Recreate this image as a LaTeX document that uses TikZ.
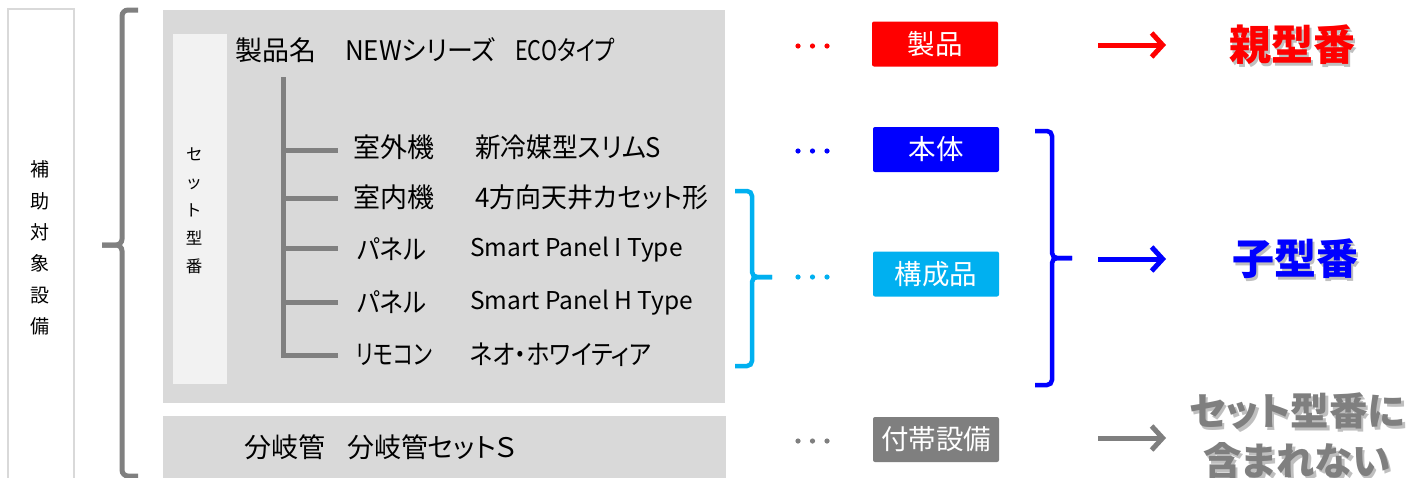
\documentclass[tikz,border=0pt]{standalone}
\usepackage{fontspec}
\setmainfont{Noto Sans CJK JP}[RawFeature=+palt]
\usetikzlibrary{arrows.meta}
\definecolor{boxgray}{HTML}{D9D9D9}
\definecolor{paleg}{HTML}{F2F2F2}
\definecolor{linegray}{HTML}{808080}
\definecolor{redc}{HTML}{FF0000}
\definecolor{bluec}{HTML}{0000FF}
\definecolor{cyanc}{HTML}{00B0F0}
\definecolor{darkg}{HTML}{7F7F7F}
\newcommand{\narw}[2]{\scalebox{#1}[1]{#2}}
\tikzset{
  panel/.style={fill=boxgray, inner sep=0, anchor=north west},
  treeline/.style={line width=5, draw=linegray},
  lbl/.style={anchor=west, inner sep=0, font=\fontsize{27}{30}\selectfont},
  lat/.style={anchor=west, inner sep=0, font=\fontsize{24.5}{30}\selectfont},
  tag/.style={rounded corners=2, minimum width=126, minimum height=45, inner sep=0, text=white, font=\fontsize{27.5}{30}\selectfont},
  dotc/.style={radius=2.6},
  brk/.style={line width=4.5, rounded corners=5},
  bigarrow/.style={line width=5, -{Straight Barb[length=11, width=24, line width=5]}},
  big/.style={font=\fontsize{42}{50}\selectfont\bfseries, inner sep=0, align=center},
  shadow/.style={text=black, opacity=0.25},
}
\begin{document}
\begin{tikzpicture}[x=1pt, y=-1pt]
\useasboundingbox (0,0) rectangle (1407,477);
\fill[white] (0,0) rectangle (1407,477);

% left label box
\draw[boxgray, line width=1.8] (74,490) -- (74,9) -- (8,9) -- (8,490);
\node[inner sep=0, align=center, font=\fontsize{19}{31.4}\selectfont] (hojo) at (40,248) {補\\助\\対\\象\\設\\備};

% big gray bracket
\draw[linegray, line width=5, rounded corners=6] (138,10) -- (122,10) -- (122,245) -- (102,245);
\draw[linegray, line width=5, rounded corners=6] (102,245) -- (122,245) -- (122,476) -- (138,476);

% gray panels
\node[panel, minimum width=562, minimum height=393] (setbox) at (163,10) {};
\node[panel, minimum width=563, minimum height=70] (subbox) at (163,416) {};
\node[fill=paleg, inner sep=0, anchor=north west, minimum width=54, minimum height=350] (setcol) at (173,34) {};
\node[inner sep=0, align=center, font=\fontsize{16.5}{28}\selectfont] (setlbl) at (194,211) {セ\\ッ\\ト\\型\\番};

% title and tree
\node[lbl] (title) at (235,50) {\makebox[110pt][l]{製品名}\makebox[170pt][l]{\narw{0.96}{NEWシリーズ}}\narw{0.8}{ECOタイプ}};
\coordinate (ttop) at (283,77);
\coordinate (b1) at (283,150);
\coordinate (b2) at (283,198);
\coordinate (b3) at (283,248);
\coordinate (b4) at (283,302);
\coordinate (b5) at (283,355);
\coordinate (e1) at (338,150);
\coordinate (e2) at (338,198);
\coordinate (e3) at (338,248);
\coordinate (e4) at (338,302);
\coordinate (e5) at (338,355);
\draw[treeline] (ttop) -- (b5) -- (e5);
\draw[treeline] (b1) -- (e1);
\draw[treeline] (b2) -- (e2);
\draw[treeline] (b3) -- (e3);
\draw[treeline] (b4) -- (e4);

\node[lbl] (k1) at (353,147) {室外機};
\node[lbl] (v1) at (475,147) {\narw{0.95}{新冷媒型スリムS}};
\node[lbl] (k2) at (353,197) {室内機};
\node[lbl] (v2) at (475,197) {\narw{0.96}{4方向天井カセット形}};
\node[lbl] (k3) at (357,249) {\narw{0.9}{パネル}};
\node[lat] (v3) at (470,250) {Smart Panel I Type};
\node[lbl] (k4) at (357,302) {\narw{0.9}{パネル}};
\node[lat] (v4) at (470,303) {Smart Panel H Type};
\node[lbl] (k5) at (356,355) {\narw{0.78}{リモコン}};
\node[lbl] (v5) at (470,355) {\narw{0.88}{ネオ・ホワイティア}};
\node[lbl] (pipe) at (244,447) {\makebox[103pt][l]{分岐管}分岐管セットＳ};

% dots
\foreach \xx in {798,812.5,827}{
  \fill[redc] (\xx,46) circle[dotc];
  \fill[bluec] (\xx,151) circle[dotc];
  \fill[cyanc] (\xx,277) circle[dotc];
  \fill[darkg] (\xx,441) circle[dotc];
}

% tags
\node[tag, fill=redc] (seihin) at (935,44) {製品};
\node[tag, fill=bluec] (hontai) at (936,149.5) {本体};
\node[tag, fill=cyanc] (kosei) at (936,274) {構成品};
\node[tag, fill=darkg] (futai) at (936,439.5) {付帯設備};

% brackets
\draw[cyanc, brk] (735,191) -- (752,191) -- (752,277) -- (772,277);
\draw[cyanc, brk] (772,277) -- (752,277) -- (752,366) -- (735,366);
\draw[bluec, brk] (1035,131) -- (1052,131) -- (1052,258) -- (1072,258);
\draw[bluec, brk] (1072,258) -- (1052,258) -- (1052,385) -- (1035,385);

% results with soft shadows
\node[big, shadow] (oyash) at (1294.5,47.5) {親型番};
\node[big, text=redc] (oya) at (1292,45) {親型番};
\node[big, shadow] (kosh) at (1297.5,261.5) {子型番};
\node[big, text=bluec] (ko) at (1295,259) {子型番};
\node[big, shadow, font=\fontsize{38.5}{50}\selectfont\bfseries] (notinsh) at (1299.5,438.5) {セット型番に\\含まれない};
\node[big, text=darkg, font=\fontsize{38.5}{50}\selectfont\bfseries] (notin) at (1297,436) {セット型番に\\含まれない};

% arrows
\coordinate (ar1) at (1098,45);
\coordinate (ar2) at (1098,259);
\coordinate (ar3) at (1098,438);
\coordinate (at1) at (1166,45);
\coordinate (at2) at (1166,259);
\coordinate (at3) at (1166,438);
\draw[bigarrow, redc] (ar1) -- (at1);
\draw[bigarrow, bluec] (ar2) -- (at2);
\draw[bigarrow, darkg] (ar3) -- (at3);
\end{tikzpicture}
\end{document}
